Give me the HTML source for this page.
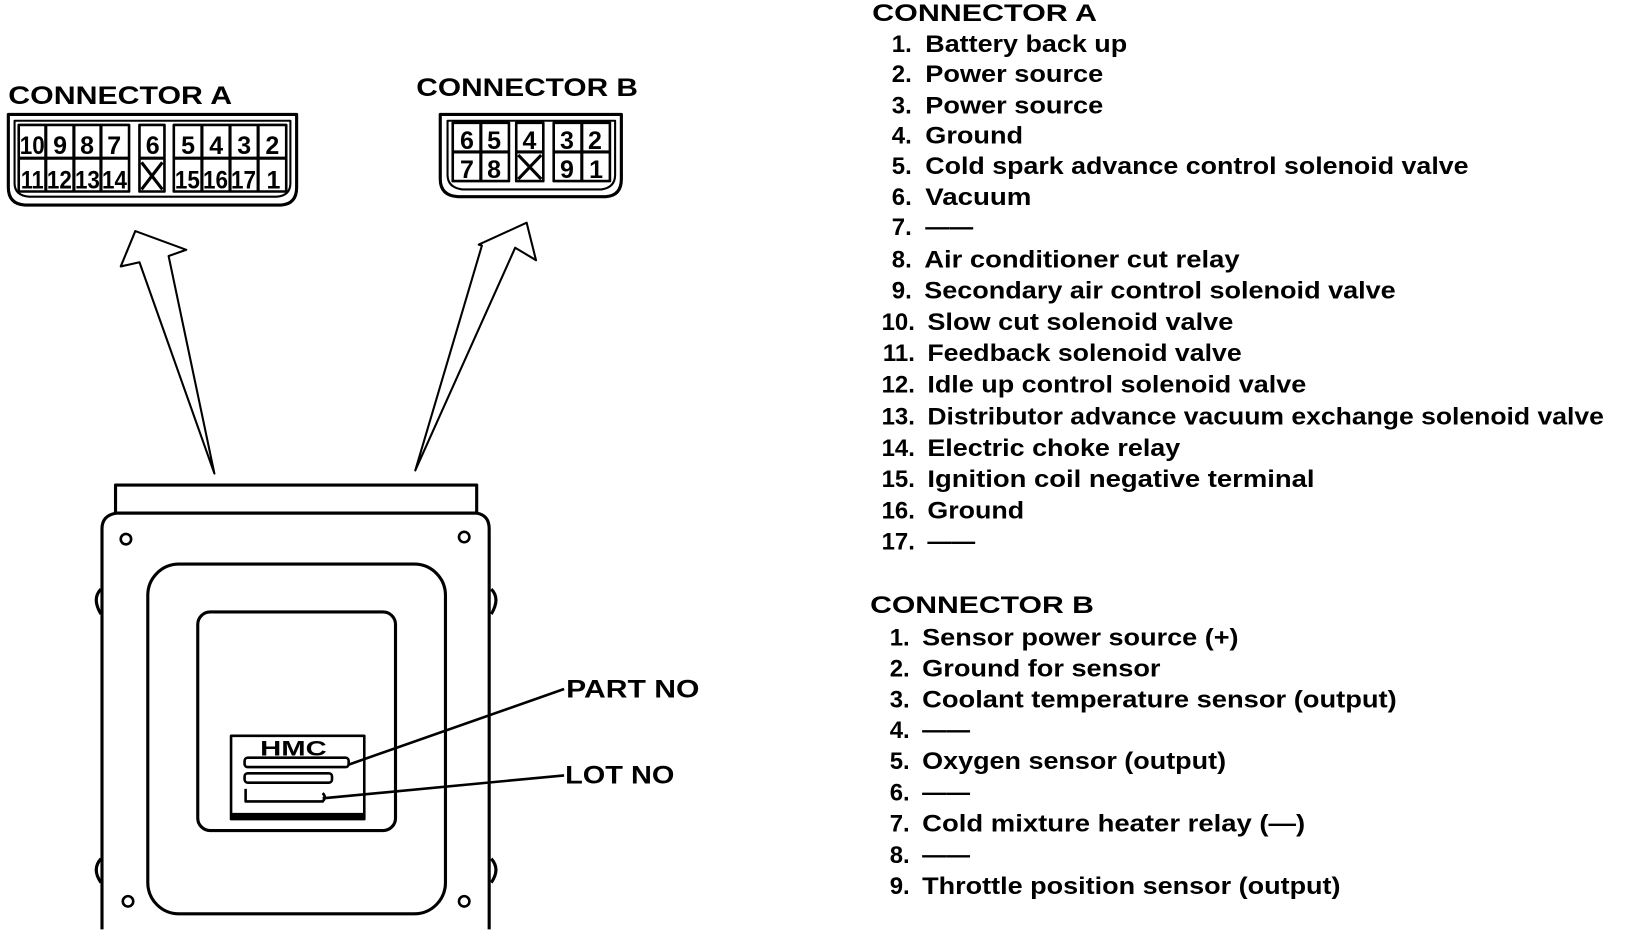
<!DOCTYPE html>
<html><head><meta charset="utf-8"><style>
html,body{margin:0;padding:0;background:#fff;}
svg{display:block}
text{font-family:"Liberation Sans",sans-serif;font-weight:bold;fill:#000}
</style></head><body>
<svg width="1632" height="932" viewBox="0 0 1632 932" xmlns="http://www.w3.org/2000/svg">
<g transform="scale(1.0408)">
<g fill="none" stroke="#000" stroke-width="3" stroke-linejoin="round">
<!-- Connector A -->
<path d="M8 110 H285 V180 Q285 196 270 197 H24 Q8 196 8 180 Z"/>
<path d="M14 116 H279 V176 Q279 188 266 189 H28 Q14 188 14 176 Z" stroke-width="2"/>
<rect x="18" y="120" width="106" height="64" stroke-width="2.5"/>
<line x1="18" y1="152" x2="124" y2="152"/>
<line x1="44" y1="120" x2="44" y2="184"/><line x1="71" y1="120" x2="71" y2="184"/><line x1="97" y1="120" x2="97" y2="184"/>
<rect x="134" y="120" width="24" height="64" stroke-width="2.5"/>
<line x1="134" y1="152" x2="158" y2="152"/>
<line x1="136" y1="156" x2="156" y2="182"/><line x1="156" y1="156" x2="136" y2="182"/>
<rect x="167" y="120" width="108" height="64" stroke-width="2.5"/>
<line x1="167" y1="152" x2="275" y2="152"/>
<line x1="194" y1="120" x2="194" y2="184"/><line x1="221" y1="120" x2="221" y2="184"/><line x1="248" y1="120" x2="248" y2="184"/>
<!-- Connector B -->
<path d="M423 110 H597 V172 Q597 188 582 189 H440 Q423 188 423 172 Z"/>
<path d="M430 116 H591 V168 Q591 180 578 182 H444 Q430 180 430 168 Z" stroke-width="2"/>
<rect x="435" y="118" width="54" height="56" stroke-width="2.5"/>
<line x1="435" y1="146" x2="489" y2="146"/><line x1="462" y1="118" x2="462" y2="174"/>
<rect x="496" y="118" width="26" height="56" stroke-width="2.5"/>
<line x1="496" y1="146" x2="522" y2="146"/>
<line x1="498" y1="149" x2="520" y2="172"/><line x1="520" y1="149" x2="498" y2="172"/>
<rect x="532" y="118" width="54" height="56" stroke-width="2.5"/>
<line x1="532" y1="146" x2="586" y2="146"/><line x1="559" y1="118" x2="559" y2="174"/>
<!-- Arrows -->
<path d="M206 455 L134 252 L116 256 L130 222 L179 240 L162 246 Z" stroke-width="2"/>
<path d="M399 452 L463 236 L460 235 L506 214 L515 250 L495 238 Z" stroke-width="2"/>
<!-- ECU -->
<rect x="111" y="466" width="347" height="27"/>
<path d="M112 493 H458 Q470 495 470 508 V893 M98 893 V508 Q98 495 112 493"/>
<circle cx="121" cy="518" r="5" stroke-width="2.5"/><circle cx="446" cy="516" r="5" stroke-width="2.5"/>
<circle cx="123" cy="866" r="5" stroke-width="2.5"/><circle cx="446" cy="866" r="5" stroke-width="2.5"/>
<path d="M97 566 Q88 575 97 590"/><path d="M472 566 Q481 575 472 590"/>
<path d="M97 825 Q88 835 97 848"/><path d="M472 825 Q481 835 472 848"/>
<rect x="142" y="542" width="286" height="336" rx="30"/>
<rect x="190" y="588" width="190" height="210" rx="12"/>
<rect x="222" y="707" width="128" height="80" stroke-width="2.5"/>
<line x1="222" y1="784" x2="350" y2="784" stroke-width="6"/>
<rect x="235" y="728" width="100" height="9" rx="3" stroke-width="2.5"/>
<rect x="235" y="743" width="84" height="9" rx="3" stroke-width="2.5"/>
<path d="M236 758 V770 H310 Q314 766 310 762" stroke-width="2.5"/>
<line x1="334" y1="735" x2="542" y2="662" stroke-width="2.5"/>
<line x1="310" y1="767" x2="542" y2="745" stroke-width="2.5"/>
</g>
<text x="250" y="726" font-size="20" font-weight="normal" textLength="64" lengthAdjust="spacingAndGlyphs">HMC</text>
<text x="8" y="100" font-size="24" textLength="215" lengthAdjust="spacingAndGlyphs">CONNECTOR A</text>
<text x="400" y="92" font-size="24" textLength="213" lengthAdjust="spacingAndGlyphs">CONNECTOR B</text>
<g font-size="24">
<text x="19" y="148" textLength="24" lengthAdjust="spacingAndGlyphs">10</text><text x="51" y="148">9</text><text x="77" y="148">8</text><text x="103" y="148">7</text>
<text x="140" y="148">6</text><text x="174" y="148">5</text><text x="201" y="148">4</text><text x="228" y="148">3</text><text x="255" y="148">2</text>
<text x="20" y="181" textLength="22" lengthAdjust="spacingAndGlyphs">11</text><text x="45" y="181" textLength="24" lengthAdjust="spacingAndGlyphs">12</text><text x="72" y="181" textLength="24" lengthAdjust="spacingAndGlyphs">13</text><text x="98" y="181" textLength="24" lengthAdjust="spacingAndGlyphs">14</text>
<text x="168" y="181" textLength="24" lengthAdjust="spacingAndGlyphs">15</text><text x="195" y="181" textLength="24" lengthAdjust="spacingAndGlyphs">16</text><text x="222" y="181" textLength="24" lengthAdjust="spacingAndGlyphs">17</text><text x="256" y="181">1</text>
<text x="442" y="143">6</text><text x="468" y="143">5</text><text x="502" y="143">4</text><text x="538" y="143">3</text><text x="565" y="143">2</text>
<text x="442" y="171">7</text><text x="468" y="171">8</text><text x="538" y="171">9</text><text x="566" y="171">1</text>
</g>
<text x="544" y="670" font-size="24" textLength="128" lengthAdjust="spacingAndGlyphs">PART NO</text>
<text x="543" y="753" font-size="24" textLength="105" lengthAdjust="spacingAndGlyphs">LOT NO</text>
<g font-size="23">
<text x="838" y="20" textLength="216" lengthAdjust="spacingAndGlyphs">CONNECTOR A</text>
<g text-anchor="end">
<text x="876" y="50">1.</text><text x="876" y="79">2.</text><text x="876" y="109">3.</text><text x="876" y="138">4.</text><text x="876" y="167">5.</text><text x="876" y="197">6.</text><text x="876" y="226">7.</text><text x="876" y="257">8.</text><text x="876" y="287">9.</text>
<text x="879" y="317">10.</text><text x="879" y="347">11.</text><text x="879" y="377">12.</text><text x="879" y="408">13.</text><text x="879" y="438">14.</text><text x="879" y="468">15.</text><text x="879" y="498">16.</text><text x="879" y="528">17.</text>
</g>
<text x="889" y="50" textLength="194" lengthAdjust="spacingAndGlyphs">Battery back up</text>
<text x="889" y="79" textLength="171" lengthAdjust="spacingAndGlyphs">Power source</text>
<text x="889" y="109" textLength="171" lengthAdjust="spacingAndGlyphs">Power source</text>
<text x="889" y="138" textLength="94" lengthAdjust="spacingAndGlyphs">Ground</text>
<text x="889" y="167" textLength="522" lengthAdjust="spacingAndGlyphs">Cold spark advance control solenoid valve</text>
<text x="889" y="197" textLength="102" lengthAdjust="spacingAndGlyphs">Vacuum</text>
<text x="889" y="226">——</text>
<text x="888" y="257" textLength="303" lengthAdjust="spacingAndGlyphs">Air conditioner cut relay</text>
<text x="888" y="287" textLength="453" lengthAdjust="spacingAndGlyphs">Secondary air control solenoid valve</text>
<text x="891" y="317" textLength="294" lengthAdjust="spacingAndGlyphs">Slow cut solenoid valve</text>
<text x="891" y="347" textLength="302" lengthAdjust="spacingAndGlyphs">Feedback solenoid valve</text>
<text x="891" y="377" textLength="364" lengthAdjust="spacingAndGlyphs">Idle up control solenoid valve</text>
<text x="891" y="408" textLength="650" lengthAdjust="spacingAndGlyphs">Distributor advance vacuum exchange solenoid valve</text>
<text x="891" y="438" textLength="243" lengthAdjust="spacingAndGlyphs">Electric choke relay</text>
<text x="891" y="468" textLength="372" lengthAdjust="spacingAndGlyphs">Ignition coil negative terminal</text>
<text x="891" y="498" textLength="93" lengthAdjust="spacingAndGlyphs">Ground</text>
<text x="891" y="528">——</text>
<text x="836" y="589" textLength="215" lengthAdjust="spacingAndGlyphs">CONNECTOR B</text>
<g text-anchor="end">
<text x="874" y="620">1.</text><text x="874" y="650">2.</text><text x="874" y="680">3.</text><text x="874" y="709">4.</text><text x="874" y="739">5.</text><text x="874" y="769">6.</text><text x="874" y="799">7.</text><text x="874" y="829">8.</text><text x="874" y="859">9.</text>
</g>
<text x="886" y="620" textLength="304" lengthAdjust="spacingAndGlyphs">Sensor power source (+)</text>
<text x="886" y="650" textLength="229" lengthAdjust="spacingAndGlyphs">Ground for sensor</text>
<text x="886" y="680" textLength="456" lengthAdjust="spacingAndGlyphs">Coolant temperature sensor (output)</text>
<text x="886" y="709">——</text>
<text x="886" y="739" textLength="292" lengthAdjust="spacingAndGlyphs">Oxygen sensor (output)</text>
<text x="886" y="769">——</text>
<text x="886" y="799" textLength="368" lengthAdjust="spacingAndGlyphs">Cold mixture heater relay (—)</text>
<text x="886" y="829">——</text>
<text x="886" y="859" textLength="402" lengthAdjust="spacingAndGlyphs">Throttle position sensor (output)</text>
</g>
</g>
</svg>
</body></html>
